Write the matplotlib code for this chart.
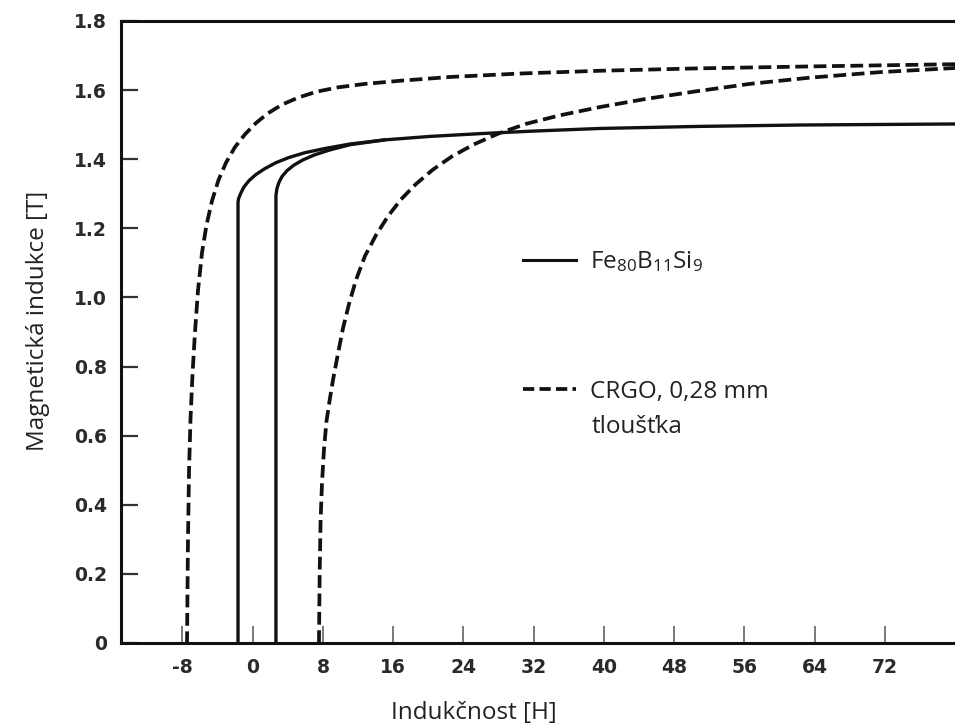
import matplotlib
matplotlib.use("Agg")
import matplotlib.pyplot as plt
from matplotlib.lines import Line2D
from matplotlib.font_manager import FontProperties

# ---------------- data ----------------
x_ticks = [-8, 0, 8, 16, 24, 32, 40, 48, 56, 64, 72]
x_tick_labels = ["-8", "0", "8", "16", "24", "32", "40", "48", "56", "64", "72"]
y_ticks = [0, 0.2, 0.4, 0.6, 0.8, 1.0, 1.2, 1.4, 1.6, 1.8]
y_tick_labels = ["0", "0.2", "0.4", "0.6", "0.8", "1.0", "1.2", "1.4", "1.6", "1.8"]

# Fe80B11Si9 (solid) - descending branch
fe_down_H = [80.0, 62.32, 50.93, 39.55, 31.58, 25.89, 20.19, 15.06, 11.08, 8.23, 5.96, 4.13,
             2.65, 1.40, 0.38, -0.42, -0.99, -1.39, -1.62, -1.67, -1.67]
fe_down_B = [1.502, 1.499, 1.495, 1.489, 1.481, 1.474, 1.466, 1.456, 1.444, 1.431, 1.419, 1.405,
             1.39, 1.373, 1.356, 1.338, 1.32, 1.30, 1.285, 1.275, 0.0]
# Fe80B11Si9 (solid) - ascending branch
fe_up_H = [2.65, 2.65, 2.76, 2.99, 3.34, 3.91, 4.70, 5.72, 7.09, 8.80, 11.08, 15.06]
fe_up_B = [0.0, 1.295, 1.315, 1.333, 1.35, 1.367, 1.383, 1.398, 1.413, 1.427, 1.442, 1.456]

# CRGO 0,28 mm (dashed) - descending branch
crgo_down_H = [80.0, 64.6, 50.93, 39.55, 30.44, 22.47, 16.77, 12.79, 9.71, 7.21, 5.16, 3.34,
               1.74, 0.38, -0.88, -2.02, -3.04, -3.89, -4.63, -5.26, -5.77, -6.23, -6.57,
               -6.85, -7.08, -7.25, -7.37, -7.48]
crgo_down_B = [1.675, 1.669, 1.663, 1.656, 1.648, 1.638, 1.627, 1.618, 1.608, 1.595, 1.578, 1.558,
               1.533, 1.505, 1.472, 1.435, 1.39, 1.34, 1.28, 1.21, 1.13, 1.02, 0.9,
               0.78, 0.65, 0.5, 0.3, 0.0]
# CRGO 0,28 mm (dashed) - ascending branch
crgo_up_H = [7.55, 7.63, 7.73, 7.89, 8.12, 8.40, 8.75, 9.14, 9.66, 10.28, 10.96, 11.76, 12.79,
             14.04, 15.41, 16.87, 18.59, 20.53, 22.69, 25.20, 28.05, 31.23, 34.99, 39.55,
             44.67, 50.36, 56.63, 63.46, 71.44, 80.0]
crgo_up_B = [0.0, 0.2, 0.35, 0.46, 0.56, 0.64, 0.70, 0.76, 0.83, 0.91, 0.98, 1.05, 1.12,
             1.18, 1.235, 1.283, 1.328, 1.37, 1.408, 1.443, 1.475, 1.503, 1.527, 1.551,
             1.574, 1.596, 1.618, 1.636, 1.652, 1.664]

label_fe = "Fe$_{80}$B$_{11}$Si$_{9}$"
label_crgo = "CRGO, 0,28 mm"
label_crgo2 = "tloušťka"
x_label = "Indukčnost [H]"
y_label = "Magnetická indukce [T]"

# ---------------- style ----------------
plt.rcParams["mathtext.fontset"] = "custom"
plt.rcParams["mathtext.rm"] = "Open Sans"
plt.rcParams["mathtext.it"] = "Open Sans"

ink = "#111111"
lw = 2.4
dash = (3.4, 1.5)

fig = plt.figure(figsize=(9.55, 7.27), dpi=100)
fig.patch.set_facecolor("white")
ax = fig.add_axes([121 / 955, 84 / 727, 834 / 955, 622 / 727])
ax.set_facecolor("white")

ax.plot(fe_down_H, fe_down_B, color=ink, lw=lw, solid_capstyle="butt", solid_joinstyle="round")
ax.plot(fe_up_H, fe_up_B, color=ink, lw=lw, solid_capstyle="round", solid_joinstyle="round")
ax.plot(crgo_down_H, crgo_down_B, color=ink, lw=2.7, linestyle=(0, dash))
ax.plot(crgo_up_H, crgo_up_B, color=ink, lw=2.7, linestyle=(0, dash))

ax.set_xlim(-15.0, 80.0)
ax.set_ylim(0, 1.8)

ax.set_xticks(x_ticks)
ax.set_xticklabels(x_tick_labels)
ax.set_yticks(y_ticks)
ax.set_yticklabels(y_tick_labels)

for t in ax.get_xticklabels() + ax.get_yticklabels():
    t.set_fontfamily("DejaVu Sans")
    t.set_fontsize(13.5)
    t.set_fontweight("bold")
    t.set_color("#2a2a2a")

ax.tick_params(axis="x", direction="in", length=12, width=1.1, color="#555555", pad=11)
ax.tick_params(axis="y", direction="in", length=12, width=1.6, color="#333333", pad=10)

for side in ["left", "bottom", "top"]:
    ax.spines[side].set_linewidth(2.2)
    ax.spines[side].set_color(ink)
ax.spines["right"].set_visible(False)

label_font = FontProperties(family="Open Sans", size=17.5)
ax.set_xlabel(x_label, fontproperties=label_font, color="#222222")
ax.xaxis.label.set_va("baseline")
ax.xaxis.set_label_coords((474 - 121) / 834, (643 - 719) / 622)
ax.set_ylabel(y_label, fontproperties=label_font, color="#222222")
ax.yaxis.set_label_coords((50 - 121) / 834, (643 - 321) / 622)

# legend
leg_font = FontProperties(family="Open Sans", size=17.5)
h1 = Line2D([], [], color=ink, lw=2.2)
h2 = Line2D([], [], color=ink, lw=2.7, linestyle=(0, (3.0, 1.4)))
leg1 = ax.legend([h1], [label_fe], loc="center left",
                 bbox_to_anchor=((523 - 121) / 834, (643 - 262) / 622),
                 frameon=False, borderpad=0, borderaxespad=0,
                 handlelength=2.2, handletextpad=0.55, prop=leg_font)
for t in leg1.get_texts():
    t.set_color("#222222")
ax.add_artist(leg1)
leg2 = ax.legend([h2], [label_crgo], loc="center left",
                 bbox_to_anchor=((523 - 121) / 834, (643 - 392) / 622),
                 frameon=False, borderpad=0, borderaxespad=0,
                 handlelength=2.2, handletextpad=0.55, prop=leg_font)
for t in leg2.get_texts():
    t.set_color("#222222")
ax.text((592 - 121) / 834, (643 - 433) / 622, label_crgo2, transform=ax.transAxes,
        ha="left", va="baseline", fontproperties=leg_font, color="#222222")

fig.savefig("out.png", dpi=100, facecolor="white")
